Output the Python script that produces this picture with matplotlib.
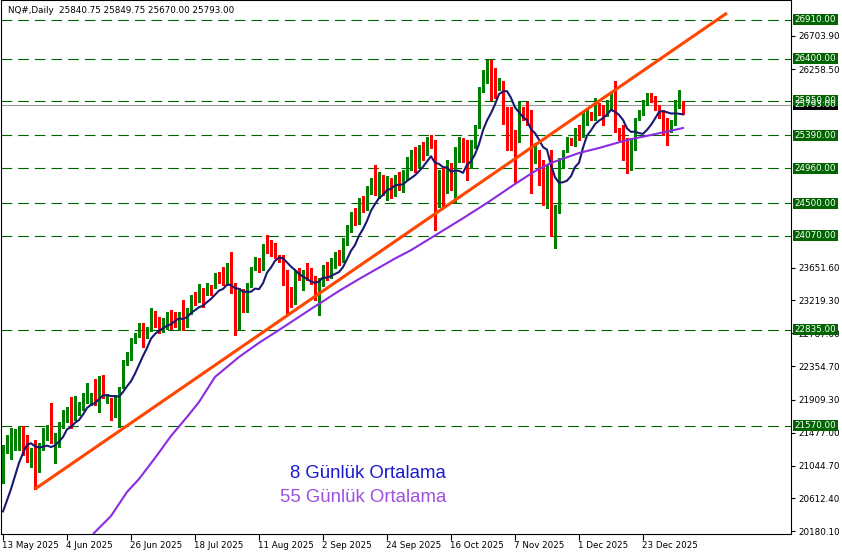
import matplotlib
matplotlib.use('Agg')
import matplotlib.pyplot as plt
from matplotlib.transforms import blended_transform_factory, offset_copy, IdentityTransform
from matplotlib.patches import Rectangle
import numpy as np
import pandas as pd

plt.rcParams['lines.scale_dashes'] = False

title_text = "NQ#,Daily  25840.75 25849.75 25670.00 25793.00"

opens = [
    20947, 21250, 21368, 21355, 21315, 21526, 21355, 21158, 21250, 20973,
    21289, 21474, 21513, 21355, 21315, 21553, 21684, 21750, 21671, 21789,
    21816, 21881, 21868, 22145, 21763, 22171, 21934, 21908, 21710, 21645,
    22079, 22395, 22461, 22671, 22750, 22869, 22737, 22829, 23066, 22987,
    22829, 22922, 23040, 23053, 22856, 23053, 23000, 23053, 23264, 23224,
    23356, 23382, 23408, 23395, 23527, 23514, 23448, 23724, 23316, 22856,
    23342, 23093, 23421, 23632, 23764, 23645, 23948, 23935, 23922, 23803,
    23803, 23448, 23329, 23198, 23606, 23500, 23619, 23566, 23474, 23329,
    23461, 23645, 23540, 23711, 23816, 23751, 23974, 24159, 24343, 24251,
    24514, 24435, 24659, 24830, 24672, 24804, 24672, 24777, 24633, 24804,
    24672, 24870, 25001, 25199, 25001, 25264, 25159, 25356, 25290, 24540,
    24909, 24764, 24935, 24830, 25067, 25343, 25264, 25001, 25264, 25501,
    26002, 26172, 26160, 26160, 26028, 26094, 25751, 25725, 25330, 25330,
    25738, 25699, 25633, 25093, 25093, 25001, 24672, 24962, 24080, 24448,
    25001, 25199, 25330, 25290, 25488, 25396, 25593, 25646, 25633, 25751,
    25725, 25686, 25791, 26080, 25462, 25330, 25330, 24962, 25225, 25633,
    25699, 25817, 25883, 25883, 25751, 25699, 25593, 25462, 25567, 25817,
    25840.75]

highs = [
    21316, 21447, 21539, 21526, 21566, 21566, 21447, 21276, 21381, 21342,
    21539, 21579, 21868, 21474, 21618, 21776, 21816, 21947, 21960, 21881,
    22000, 22131, 22000, 22184, 22224, 22237, 21987, 21934, 21974, 22079,
    22434, 22540, 22724, 22790, 22922, 22922, 22869, 23119, 23079, 23000,
    22987, 23066, 23093, 23066, 23066, 23224, 23119, 23290, 23329, 23435,
    23382, 23448, 23421, 23579, 23593, 23658, 23711, 23856, 23448, 23382,
    23369, 23448, 23658, 23790, 23777, 23961, 24080, 24014, 23974, 23816,
    23816, 23619, 23395, 23619, 23645, 23619, 23711, 23645, 23540, 23514,
    23685, 23724, 23777, 23856, 23882, 24040, 24211, 24382, 24435, 24567,
    24593, 24725, 24830, 25001, 24909, 24869, 24856, 24830, 24869, 24909,
    24935, 25106, 25199, 25238, 25264, 25304, 25369, 25396, 25330, 24935,
    24962, 25067, 25028, 25238, 25369, 25356, 25330, 25330, 25527, 26028,
    26252, 26383, 26383, 26278, 26146, 26107, 25764, 25764, 25462, 25830,
    25764, 25830, 25725, 25290, 25199, 25067, 25001, 25199, 24475, 25093,
    25199, 25369, 25356, 25488, 25527, 25699, 25725, 25699, 25883, 25817,
    25790, 25857, 25949, 26107, 25488, 25527, 25356, 25356, 25620, 25725,
    25857, 25949, 25949, 25909, 25790, 25725, 25620, 25593, 25857, 25988,
    25849.75]

lows = [
    20815, 21210, 21131, 21250, 21250, 21184, 21092, 21026, 20736, 20960,
    21250, 21381, 21342, 21079, 21289, 21539, 21618, 21539, 21645, 21710,
    21776, 21868, 21842, 21842, 21750, 21934, 21868, 21645, 21684, 21553,
    22066, 22368, 22434, 22658, 22737, 22606, 22724, 22816, 22869, 22790,
    22803, 22842, 22842, 22869, 22829, 22829, 22869, 23040, 23158, 23198,
    23132, 23290, 23290, 23382, 23448, 23421, 23421, 23316, 22763, 22829,
    23066, 23066, 23395, 23619, 23593, 23619, 23842, 23803, 23777, 23724,
    23421, 23027, 23132, 23171, 23487, 23356, 23487, 23435, 23224, 23027,
    23408, 23487, 23514, 23645, 23685, 23724, 23948, 24119, 24211, 24224,
    24382, 24409, 24620, 24606, 24567, 24606, 24540, 24567, 24593, 24672,
    24646, 24804, 24935, 24909, 24975, 25067, 25132, 25225, 24146, 24448,
    24435, 24632, 24672, 24514, 25040, 25040, 24804, 24962, 25225, 25486,
    25962, 26080, 25857, 25883, 25988, 25540, 25199, 25199, 24777, 25304,
    25593, 25527, 24633, 25028, 24738, 24475, 24435, 24067, 23908, 24370,
    24962, 25172, 25264, 25251, 25330, 25369, 25527, 25593, 25593, 25659,
    25527, 25646, 25725, 25435, 25330, 25067, 24896, 24935, 25199, 25593,
    25659, 25791, 25830, 25725, 25620, 25396, 25264, 25435, 25527, 25751,
    25670.00]

closes = [
    21276, 21408, 21408, 21421, 21526, 21289, 21158, 21223, 20947, 21289,
    21487, 21539, 21381, 21447, 21579, 21697, 21750, 21553, 21921, 21829,
    21960, 22131, 21921, 21868, 22171, 21947, 21947, 21737, 21947, 22079,
    22408, 22474, 22698, 22750, 22869, 22671, 22790, 23066, 22895, 22829,
    22922, 23053, 23000, 23027, 23053, 23014, 23079, 23277, 23224, 23356,
    23158, 23408, 23395, 23448, 23514, 23448, 23685, 23329, 22803, 23356,
    23093, 23421, 23527, 23777, 23632, 23948, 23922, 23895, 23790, 23764,
    23461, 23329, 23198, 23593, 23514, 23606, 23553, 23474, 23329, 23461,
    23645, 23540, 23724, 23816, 23751, 23988, 24172, 24343, 24251, 24514,
    24435, 24672, 24830, 24672, 24804, 24672, 24777, 24633, 24804, 24738,
    24870, 25027, 25106, 24975, 25199, 25106, 25356, 25290, 24185, 24909,
    24764, 24935, 24764, 25199, 25356, 25067, 25040, 25264, 25501, 26015,
    26225, 26225, 26133, 25988, 26120, 25554, 25527, 25304, 25225, 25699,
    25659, 25633, 25159, 25159, 24830, 24540, 24935, 24080, 24382, 25067,
    25199, 25330, 25304, 25488, 25396, 25659, 25659, 25620, 25857, 25699,
    25567, 25857, 25896, 25462, 25330, 25093, 24962, 25330, 25593, 25699,
    25817, 25883, 25857, 25751, 25659, 25435, 25462, 25567, 25830, 25844,
    25793.00]

# closes of the 7 sessions before the first visible bar (needed for the 8-day average)
pre_closes = [20250, 20200, 20050, 20150, 20250, 20300, 21050]

ma55_bars = [22, 23, 27, 31, 34, 38, 42, 46, 49, 53, 59, 64, 69, 77, 84, 89, 94,
             98, 102, 109, 115, 121, 128, 133, 137, 144, 149, 156, 162, 170]
ma55_vals = [20105, 20170, 20381, 20697, 20868, 21144, 21434, 21684, 21881,
             22211, 22474, 22660, 22829, 23106, 23343, 23500, 23650, 23770,
             23880, 24106, 24300, 24501, 24751, 24920, 25028, 25159, 25225,
             25330, 25396, 25488]

trend_bars = [8, 181]
trend_vals = [20736, 27002]

levels = [26910, 26400, 25850, 25390, 24960, 24500, 24070, 22835, 21570]
axis_ticks = [26703.90, 26258.50, 23651.60, 23219.30, 22787.00, 22354.70,
              21909.30, 21477.00, 21044.70, 20612.40, 20180.10]
current_price = 25793.00

date_ticks = [0, 16, 32, 48, 64, 80, 96, 112, 128, 144, 160]
date_labels = ['13 May 2025', '4 Jun 2025', '26 Jun 2025', '18 Jul 2025',
               '11 Aug 2025', '2 Sep 2025', '24 Sep 2025', '16 Oct 2025',
               '7 Nov 2025', '1 Dec 2025', '23 Dec 2025']

legend_lines = ['8 Günlük Ortalama', '55 Günlük Ortalama']

# ---------------------------------------------------------------
W, H = 842, 555
fig = plt.figure(figsize=(W / 100, H / 100), dpi=100)
fig.patch.set_facecolor('white')
ax = fig.add_axes([1 / W, 21 / H, 790 / W, 534 / H])
ax.set_facecolor('white')
ax.set_xlim(-0.5, 197)
ax.set_ylim(20144, 27173)

for s in ax.spines.values():
    s.set_color('black')
    s.set_linewidth(0.8)

small_font = dict(family='DejaVu Sans', size=6.3)

# level lines
for lv in levels:
    ax.axhline(lv, color='#006400', lw=0.8, linestyle=(0, (7.7, 4.3)), zorder=1)
ax.axhline(current_price, color='#9a9a9a', lw=0.8, zorder=1)

# candles
o = np.array(opens, float)
h = np.array(highs, float)
l = np.array(lows, float)
c = np.array(closes, float)
idx = np.arange(len(c))
cols = np.where(c >= o, '#008000', '#FF0000')
ax.vlines(idx, l, h, colors=cols, lw=0.75, zorder=3, antialiased=False)
body_bot = np.minimum(o, c)
body_h = np.maximum(np.abs(c - o), 14)
ax.bar(idx, body_h, bottom=body_bot, width=0.72, color=cols, lw=0, zorder=3)

# moving averages
full = pd.Series(list(pre_closes) + list(closes), dtype=float)
ma8 = full.rolling(8).mean().values[len(pre_closes):]
ax.plot(idx, ma8, color='#191970', lw=1.5, zorder=4)
ax.plot(ma55_bars, ma55_vals, color='#8A2BE2', lw=1.5, zorder=4)

# trend line
ax.plot(trend_bars, trend_vals, color='#FF4500', lw=2.2, zorder=4,
        solid_capstyle='butt')

# y axis ticks on the right
ax.yaxis.set_ticks_position('right')
ax.set_yticks(axis_ticks)
ax.set_yticklabels([f'{v:.2f}' for v in axis_ticks], **small_font)
ax.tick_params(axis='y', length=3, width=0.8, pad=2, colors='black')

# x axis ticks
ax.set_xticks(date_ticks)
ax.set_xticklabels([])
ax.tick_params(axis='x', length=4, width=0.8)
tx = offset_copy(blended_transform_factory(ax.transData, ax.transAxes), fig,
                 x=-0.5, y=-11, units='dots')
for t, lab in zip(date_ticks, date_labels):
    ax.text(t, 0, lab, transform=tx, ha='left', va='center', clip_on=False,
            **small_font)

# right side level boxes
fig.canvas.draw()


def price_box(val, face):
    yd = ax.transData.transform((0, val))[1]
    fig.add_artist(Rectangle((793, yd - 5.5), 45, 11, transform=IdentityTransform(),
                             facecolor=face, edgecolor='none', zorder=10))
    fig.text(815.5 / W, yd / H, f'{val:.2f}', ha='center', va='center',
             color='white', zorder=11, **small_font)


price_box(current_price, 'black')
for lv in levels:
    price_box(lv, '#006400')

# title
fig.text(8 / W, 1 - 10.5 / H, title_text, ha='left', va='center', **small_font)

# legend text
fig.text(290 / W, 1 - 473 / H, legend_lines[0], ha='left', va='center',
         family='Liberation Sans', size=13.4, color='#1a1acd')
fig.text(280 / W, 1 - 498 / H, legend_lines[1], ha='left', va='center',
         family='Liberation Sans', size=13.4, color='#9d4fe0')

fig.savefig('out.png', dpi=100, facecolor='white')
